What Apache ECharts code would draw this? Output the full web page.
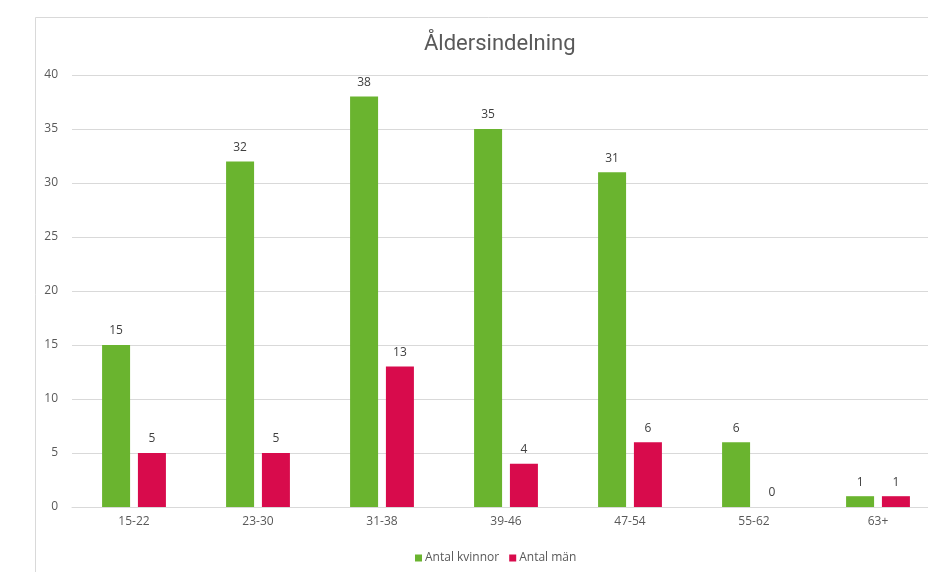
<!DOCTYPE html>
<html>
<head>
<meta charset="utf-8">
<script src="https://cdn.jsdelivr.net/npm/echarts@6/dist/echarts.min.js"></script>
<style>html,body{margin:0;padding:0;background:#fff;overflow:hidden;width:928px;height:572px}#c{width:941px;height:572px}</style>
</head>
<body>
<div id="c"></div>
<script>
const categories = ['15-22', '23-30', '31-38', '39-46', '47-54', '55-62', '63+'];
const kvinnor = [15, 32, 38, 35, 31, 6, 1];
const man = [5, 5, 13, 4, 6, 0, 1];
const seriesNames = ['Antal kvinnor', 'Antal män'];
const yTicks = { min: 0, max: 40, interval: 5 };

const chart = echarts.init(document.getElementById('c'), null, { renderer: 'canvas' });
const labelFont = { fontFamily: 'Open Sans', fontSize: 12, color: '#595959' };
chart.setOption({
  animation: false,
  backgroundColor: '#fff',
  graphic: [
    { type: 'line', shape: { x1: 35.5, y1: 17.5, x2: 941, y2: 17.5 }, style: { stroke: '#d9d9d9', lineWidth: 1 } },
    { type: 'line', shape: { x1: 35.5, y1: 17.5, x2: 35.5, y2: 572 }, style: { stroke: '#d9d9d9', lineWidth: 1 } }
  ],
  title: {
    text: 'Åldersindelning',
    left: 419, top: 28,
    textStyle: { fontFamily: 'Roboto', fontSize: 22, fontWeight: 'normal', color: '#595959' }
  },
  legend: {
    data: seriesNames,
    left: 410, top: 547,
    icon: 'rect', itemWidth: 7, itemHeight: 7, itemGap: 10,
    textStyle: { fontFamily: 'Open Sans', fontSize: 12, color: '#595959', padding: [0, 0, 0, -2] }
  },
  grid: { left: 72, top: 75, right: 1, bottom: 65 },
  xAxis: {
    type: 'category', data: categories,
    axisLine: { lineStyle: { color: '#d9d9d9' } },
    axisTick: { show: false },
    axisLabel: Object.assign({ margin: 9 }, labelFont)
  },
  yAxis: {
    type: 'value', min: yTicks.min, max: yTicks.max, interval: yTicks.interval,
    axisLine: { show: false }, axisTick: { show: false },
    splitLine: { lineStyle: { color: '#d9d9d9' } },
    axisLabel: Object.assign({ margin: 14 }, labelFont)
  },
  series: [
    { name: seriesNames[0], type: 'bar', data: kvinnor, barWidth: 28, barGap: '28%',
      itemStyle: { color: '#6ab42f' },
      label: { show: true, position: 'top', distance: 8, fontFamily: 'Open Sans', fontSize: 12, color: '#404040' } },
    { name: seriesNames[1], type: 'bar', data: man, barWidth: 28,
      itemStyle: { color: '#d80b4c' },
      label: { show: true, position: 'top', distance: 8, fontFamily: 'Open Sans', fontSize: 12, color: '#404040' } }
  ]
});
</script>
</body>
</html>
